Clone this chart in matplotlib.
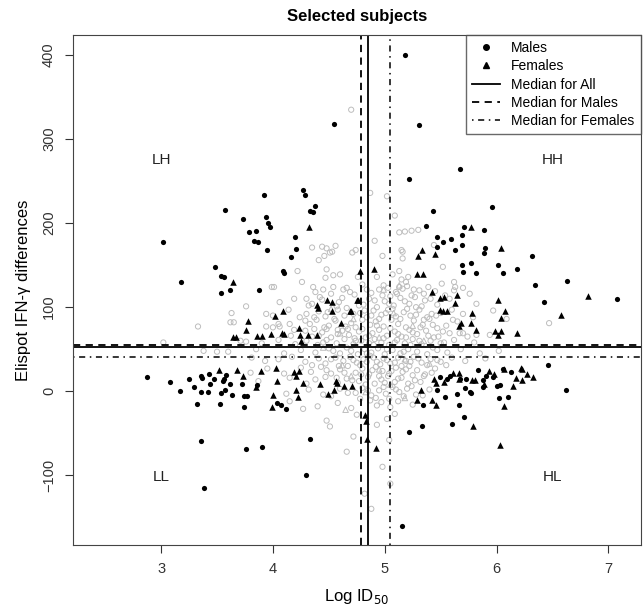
import matplotlib.pyplot as plt
from matplotlib.lines import Line2D
import numpy as np

plt.rcParams['font.family'] = ['Liberation Sans', 'DejaVu Sans']

# medians (log ID50 / Elispot)
med_x_all, med_x_male, med_x_female = 4.85, 4.79, 5.045
med_y_all, med_y_male, med_y_female = 52.4, 54.8, 40.5

quadrant_labels = ['LH', 'HH', 'LL', 'HL']
quadrant_pos = [(3.0, 275), (6.5, 275), (3.0, -102), (6.5, -102)]

males = [
    (4.55, 318), (3.92, 234), (4.27, 240), (4.29, 234), (3.57, 216), (3.73, 205), (3.94, 207),
    (3.96, 200), (3.97, 195), (4.33, 215), (4.36, 213), (4.38, 221), (3.79, 190), (3.85, 191),
    (3.83, 179), (3.87, 177), (3.95, 168), (4.20, 183), (4.21, 169), (4.16, 160), (3.02, 177),
    (3.48, 148), (3.54, 137), (3.56, 136), (3.18, 130), (3.62, 120), (3.54, 117), (3.88, 120),
    (4.09, 143), (4.10, 141),
    (5.18, 400), (5.31, 317), (5.22, 252), (5.67, 264), (5.96, 219), (5.43, 214), (5.37, 197),
    (5.71, 195), (5.89, 192), (5.69, 186), (5.47, 184), (5.52, 178), (5.59, 181), (5.47, 172),
    (5.63, 168), (5.69, 174), (5.90, 170), (5.89, 165), (6.32, 161), (5.69, 150), (5.77, 152),
    (6.01, 150), (6.18, 145), (5.70, 142), (5.82, 141), (6.06, 141), (6.34, 126), (6.63, 131),
    (7.08, 110), (6.42, 106),
    (6.46, 31), (6.62, 1.5), (6.06, 26), (5.97, 17), (5.91, 18), (5.83, 25), (5.88, 13),
    (5.88, 5), (6.00, 6), (6.02, -8), (5.73, 15), (5.72, 4), (5.76, -1), (5.77, -2), (5.71, -31),
    (5.65, -3), (5.66, -17), (5.60, -39), (5.56, 15), (5.58, 18), (5.54, -7), (5.47, 1),
    (5.34, -17), (5.33, -41), (5.22, -48), (5.15, -160), (5.49, 17), (5.67, 15), (6.13, 23),
    (6.10, -7), (6.03, 7),
    (2.87, 17), (3.08, 11), (3.17, 0), (3.25, 15), (3.29, 5), (3.32, -15), (3.36, 18), (3.37, 16),
    (3.36, -1), (3.43, 20), (3.44, 9), (3.47, 14), (3.42, -1), (3.55, 12), (3.56, 15), (3.58, 19),
    (3.57, 1), (3.54, -2), (3.53, -15), (3.63, -4), (3.62, 9), (3.72, 8), (3.74, -6), (3.77, -6),
    (3.74, -19), (3.86, 7), (4.04, -14), (4.07, -16), (4.12, -21), (3.36, -59), (3.38, -115),
    (3.76, -69), (3.90, -67), (4.33, -57), (4.30, -100),
]

females = [
    (4.32, 196), (3.64, 130), (4.78, 143), (4.90, 146), (6.04, 171), (5.77, 195), (5.33, 168),
    (5.30, 161), (5.45, 163), (5.29, 139), (5.34, 139), (5.42, 118), (5.49, 111), (5.53, 112),
    (5.65, 114), (6.82, 113), (6.01, 109), (4.76, 108), (4.70, 95), (5.63, 105), (5.49, 97),
    (5.52, 96), (5.56, 95), (5.78, 93), (6.08, 95), (6.04, 87), (6.58, 91), (5.68, 81), (5.66, 77),
    (5.77, 81), (5.82, 73), (5.99, 72), (6.04, 72), (6.01, 67), (6.18, 69), (4.61, 81), (4.39, 103),
    (4.40, 99), (4.48, 108), (4.53, 106), (4.53, 96), (4.69, 96), (4.75, 108), (4.09, 96),
    (4.02, 90), (3.78, 84), (3.76, 73), (3.64, 65), (3.67, 65), (3.86, 66), (3.90, 66), (3.98, 68),
    (4.08, 69), (4.10, 68), (4.23, 75), (4.24, 67), (4.31, 67), (4.39, 67), (4.25, 60),
    (6.22, 28), (6.23, 27), (6.27, 21), (6.33, 17), (6.23, 13), (6.17, 16), (6.15, 6), (6.07, 26),
    (5.98, 21), (5.93, 24), (5.89, 9), (6.07, -18), (6.03, -64), (5.81, 13), (5.78, 13),
    (5.79, -42), (5.66, 22), (5.66, 14), (5.61, 22), (5.53, 11), (5.44, 14), (5.46, 10), (5.32, 2),
    (5.29, -10), (5.42, -11), (5.46, -16), (4.92, -68), (4.84, -57), (4.82, -28), (4.83, -35),
    (4.64, 6), (4.71, 6), (4.56, 12), (3.52, 25), (3.68, 25), (3.73, 18), (3.85, 5), (3.89, 24),
    (4.00, -4), (4.03, 28), (4.04, 12), (3.99, -19), (4.19, 23), (4.21, 18), (4.23, 24), (4.21, 2),
    (4.22, -7), (4.27, 10), (4.42, 8), (4.49, -3), (4.55, 1), (4.57, 10),
]

# other (non-selected) subjects, drawn as open grey symbols
others_circle = [
    (4.70, 335), (4.87, 236), (5.02, 232), (5.09, 209), (5.13, 189), (5.18, 190), (5.24, 191),
    (5.30, 192), (4.91, 179), (4.56, 173), (4.53, 166), (4.71, 165), (4.98, 161), (5.16, 166),
    (5.16, 158), (4.35, 171), (4.44, 172), (4.48, 170), (4.51, 165), (4.46, 161), (4.41, 156),
    (5.15, 168), (4.74, 168), (4.22, 143), (4.48, 145), (4.47, 135), (4.54, 138), (4.60, 139),
    (4.76, 136), (4.93, 136), (5.07, 139), (5.13, 143), (5.15, 133), (5.21, 136), (5.44, 174),
    (5.52, 148), (5.51, 128), (5.62, 130), (5.62, 120), (3.99, 124), (4.01, 124), (4.36, 124),
    (4.45, 121), (4.54, 124), (4.63, 121), (4.99, 126), (5.03, 123), (5.13, 124), (5.19, 130),
    (5.31, 120), (5.39, 124), (5.63, 124), (5.70, 123), (5.26, 121), (5.24, 114), (5.10, 118),
    (5.16, 122), (4.26, 130),
    (3.76, 101), (3.63, 93), (3.62, 82), (3.65, 82), (3.33, 77), (4.06, 106), (4.19, 110),
    (4.30, 110), (4.32, 102), (4.14, 97), (4.24, 88), (4.29, 84), (3.94, 92), (4.00, 90),
    (4.05, 80), (4.15, 80), (3.94, 77), (4.00, 76), (4.06, 77), (4.19, 73), (4.37, 74), (4.46, 76),
    (4.58, 73), (4.67, 74), (3.71, 60), (3.76, 59), (3.38, 48), (3.50, 47), (3.02, 58),
    (5.54, 114), (5.76, 116), (5.82, 104), (5.97, 96), (6.09, 86), (5.94, 67), (5.82, 67),
    (5.74, 65), (5.67, 69), (5.58, 69), (5.48, 65), (5.42, 92), (5.43, 79), (5.79, 88), (5.70, 92),
    (5.61, 85), (6.47, 81),
    (4.38, 118), (4.52, 116), (4.66, 123), (4.73, 115), (4.80, 127), (4.88, 117), (4.95, 121),
    (5.05, 113), (5.20, 125), (5.35, 116), (5.45, 119),
    (4.35, 104), (4.44, 109), (4.57, 101), (4.62, 111), (4.81, 103), (4.86, 110), (4.93, 100),
    (5.00, 107), (5.08, 102), (5.14, 111), (5.22, 104), (5.28, 100), (5.36, 108), (5.47, 103),
    (5.58, 110),
    (4.30, 92), (4.41, 95), (4.47, 89), (4.58, 97), (4.64, 90), (4.78, 93), (4.84, 88), (4.90, 96),
    (4.97, 91), (5.03, 97), (5.10, 89), (5.17, 94), (5.23, 90), (5.31, 97), (5.38, 88), (5.50, 93),
    (5.60, 97),
    (4.33, 80), (4.39, 85), (4.50, 78), (4.56, 84), (4.70, 81), (4.74, 76), (4.80, 85), (4.87, 79),
    (4.92, 83), (4.99, 77), (5.06, 85), (5.12, 80), (5.19, 76), (5.26, 84), (5.34, 79), (5.40, 86),
    (5.55, 78), (5.65, 83),
    (4.16, 66), (4.29, 72), (4.35, 65), (4.44, 70), (4.52, 64), (4.62, 72), (4.68, 67), (4.77, 71),
    (4.83, 64), (4.89, 69), (4.95, 73), (5.02, 66), (5.09, 71), (5.15, 65), (5.22, 73), (5.29, 68),
    (5.37, 72), (5.44, 64), (5.52, 71), (5.70, 69),
    (3.90, 57), (4.05, 61), (4.20, 56), (4.30, 60), (4.40, 55), (4.48, 61), (4.57, 57), (4.64, 62),
    (4.72, 56), (4.79, 60), (4.86, 57), (4.91, 62), (4.97, 58), (5.04, 55), (5.11, 61), (5.18, 57),
    (5.25, 62), (5.33, 56), (5.41, 60), (5.50, 57), (5.62, 61), (5.80, 58),
    (3.60, 47), (3.85, 50), (4.10, 45), (4.25, 49), (4.38, 46), (4.50, 51), (4.60, 45), (4.70, 48),
    (4.76, 44), (4.82, 50), (4.88, 46), (4.94, 51), (5.00, 44), (5.07, 49), (5.14, 45), (5.21, 50),
    (5.29, 47), (5.38, 44), (5.47, 49), (5.56, 46), (5.68, 50), (5.85, 45), (6.02, 48),
    (3.81, 40), (3.93, 36), (4.05, 38), (4.17, 41), (4.29, 35), (4.41, 39), (4.47, 33), (4.56, 40),
    (4.63, 36), (4.69, 41), (4.75, 34), (4.81, 38), (4.87, 42), (4.93, 35), (4.99, 39), (5.05, 33),
    (5.12, 40), (5.19, 36), (5.26, 41), (5.33, 34), (5.41, 38), (5.50, 35), (5.60, 40), (5.72, 36),
    (5.90, 39),
    (3.80, 22), (3.95, 27), (4.10, 21), (4.25, 28), (4.34, 23), (4.43, 29), (4.52, 21), (4.60, 26),
    (4.67, 30), (4.74, 22), (4.80, 27), (4.86, 20), (4.92, 29), (4.98, 24), (5.04, 21), (5.10, 28),
    (5.16, 23), (5.22, 30), (5.29, 25), (5.36, 20), (5.45, 27), (5.55, 31),
    (3.87, 12), (4.15, 16), (4.30, 9), (4.38, 14), (4.47, 17), (4.58, 10), (4.66, 15), (4.77, 12),
    (4.85, 17), (4.91, 9), (4.97, 14), (5.03, 18), (5.09, 11), (5.15, 16), (5.21, 9), (5.27, 13),
    (5.35, 18),
    (4.12, -3), (4.32, 2), (4.45, -4), (4.60, 3), (4.74, -2), (4.80, 4), (4.88, -5), (4.95, 1),
    (5.01, -3), (5.07, 5), (5.13, -1), (5.20, 3), (5.28, -4), (5.40, 2),
    (4.15, -12), (4.40, -18), (4.58, -14), (4.70, -20), (4.87, -11), (4.93, -17), (4.97, -13),
    (5.05, -19), (5.12, -12), (5.25, -16),
    (4.27, -21), (4.48, -35), (4.51, -42), (4.75, -28), (4.93, -40), (5.09, -27), (5.02, -33),
    (4.66, -72), (4.72, -54), (5.04, -58), (4.82, -122), (4.98, -90), (4.88, -140), (5.05, -110),
    # second, offset pass through the dense core
    (4.42, 112), (4.59, 106), (4.69, 118), (4.77, 102), (4.84, 121), (4.91, 108), (4.98, 114),
    (5.04, 104), (5.11, 116), (5.18, 107), (5.27, 112), (5.33, 101), (5.41, 110),
    (4.37, 88), (4.49, 94), (4.55, 86), (4.66, 99), (4.72, 92), (4.82, 96), (4.88, 90), (4.95, 86),
    (5.01, 93), (5.07, 98), (5.14, 86), (5.20, 98), (5.28, 91), (5.35, 85), (5.46, 90),
    (4.41, 66), (4.48, 74), (4.58, 68), (4.65, 77), (4.73, 63), (4.80, 74), (4.86, 66), (4.93, 78),
    (4.99, 63), (5.05, 75), (5.12, 68), (5.19, 64), (5.25, 70), (5.32, 76), (5.39, 66), (5.47, 75),
    (4.45, 58), (4.54, 48), (4.66, 52), (4.74, 60), (4.84, 45), (4.90, 55), (5.02, 50), (5.09, 58),
    (5.17, 47), (5.23, 55), (5.31, 60), (5.43, 52), (5.53, 58),
    (4.35, 31), (4.52, 38), (4.59, 30), (4.72, 37), (4.78, 31), (4.84, 35), (4.90, 40), (4.96, 32),
    (5.02, 37), (5.09, 34), (5.15, 30), (5.23, 35), (5.30, 39), (5.38, 31), (5.47, 37),
    (4.48, 25), (4.57, 16), (4.64, 22), (4.71, 13), (4.79, 20), (4.83, 8), (4.89, 25), (4.95, 18),
    (5.00, 10), (5.06, 24), (5.12, 15), (5.19, 26), (5.25, 19), (5.32, 11), (5.42, 22),
    (4.52, -6), (4.67, -2), (4.78, -9), (4.85, 1), (4.92, -8), (4.99, 5), (5.04, -9), (5.10, 2),
    (5.17, -6), (5.24, 6), (5.34, -5),
]

others_triangle = [
    (4.99, 121), (5.13, 126), (4.52, 98), (4.72, 86), (5.08, 93), (5.25, 78), (4.60, 69),
    (4.95, 64), (5.35, 60), (4.45, 52), (4.85, 43), (5.18, 38), (4.62, 31), (4.95, 26),
    (5.40, 33), (4.70, 18), (5.05, 8), (4.83, -1), (5.18, -8), (4.65, -22),
]

mx, my = np.array(males).T
fx, fy = np.array(females).T
ox, oy = np.array(others_circle).T
tx, ty = np.array(others_triangle).T

fig = plt.figure(figsize=(6.44, 6.13), dpi=100)
ax = fig.add_axes([0.113, 0.111, 0.882, 0.832])

grey = '#bdbdbd'
ax.scatter(ox, oy, s=14, facecolors='none', edgecolors=grey, linewidths=0.7, marker='o', zorder=1)
ax.scatter(tx, ty, s=16, facecolors='none', edgecolors=grey, linewidths=0.7, marker='^', zorder=1)
ax.scatter(mx, my, s=14, color='black', marker='o', zorder=3, linewidths=0)
ax.scatter(fx, fy, s=22, color='black', marker='^', zorder=3, linewidths=0)

ax.axvline(med_x_all, color='black', lw=1.3, zorder=2)
ax.axvline(med_x_male, color='black', lw=1.3, ls=(0, (4, 3)), zorder=2)
ax.axvline(med_x_female, color='black', lw=1.1, ls=(0, (1, 3, 4, 3)), zorder=2)
ax.axhline(med_y_all, color='black', lw=1.3, zorder=2)
ax.axhline(med_y_male, color='black', lw=1.3, ls=(0, (4, 3)), zorder=2)
ax.axhline(med_y_female, color='black', lw=1.1, ls=(0, (1, 3, 4, 3)), zorder=2)

for lab, (qx, qy) in zip(quadrant_labels, quadrant_pos):
    ax.text(qx, qy, lab, fontsize=11, ha='center', va='center', color='#222222')

ax.set_xlim(2.21, 7.29)
ax.set_ylim(-183, 424)
ax.set_xticks([3, 4, 5, 6, 7])
ax.set_yticks([-100, 0, 100, 200, 300, 400])
ax.tick_params(direction='out', length=6, labelsize=10.5, pad=6, colors='#333333')
for lbl in ax.get_yticklabels():
    lbl.set_rotation(90)
    lbl.set_va('center')
for sp in ax.spines.values():
    sp.set_color('#444444')

ax.set_xlabel('Log ID$_{50}$', fontsize=12, labelpad=8)
ax.set_ylabel('Elispot IFN-γ differences', fontsize=12, labelpad=8)
ax.set_title('Selected subjects', fontsize=12, fontweight='bold', pad=10)

handles = [
    Line2D([], [], color='black', marker='o', ls='none', markersize=4),
    Line2D([], [], color='black', marker='^', ls='none', markersize=5),
    Line2D([], [], color='black', lw=1.3),
    Line2D([], [], color='black', lw=1.3, ls=(0, (4, 3))),
    Line2D([], [], color='black', lw=1.1, ls=(0, (1, 3, 4, 3))),
]
names = ['Males', 'Females', 'Median for All', 'Median for Males', 'Median for Females']
leg = ax.legend(handles, names, loc='upper right', fontsize=10, frameon=True, fancybox=False,
                borderaxespad=0, handlelength=2.0, labelspacing=0.3, borderpad=0.45,
                handletextpad=0.8)
leg.get_frame().set_edgecolor('#444444')
leg.get_frame().set_linewidth(1.0)

plt.savefig('out.png', dpi=100)
